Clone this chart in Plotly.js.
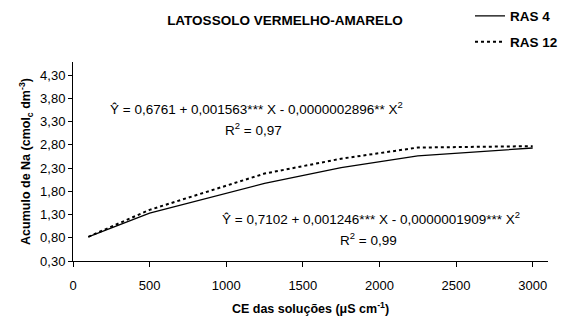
<!DOCTYPE html>
<html>
<head>
<meta charset="utf-8">
<script src="https://cdn.plot.ly/plotly-3.0.1.min.js"></script>
<style>html,body{margin:0;padding:0;background:#fff}#chart{width:564px;height:318px}</style>
</head>
<body>
<div id="chart"></div>
<script>
var ceValues = [100, 500, 1250, 1750, 2250, 3000];
var ras4 = [0.82, 1.33, 1.97, 2.31, 2.56, 2.73];
var ras12 = [0.82, 1.40, 2.18, 2.50, 2.74, 2.77];
var seriesNames = ["RAS 4", "RAS 12"];
var chartTitle = "LATOSSOLO VERMELHO-AMARELO";
var eq12 = "Ŷ = 0,6761 + 0,001563*** X - 0,0000002896** X<sup>2</sup>";
var r12 = "R<sup>2</sup> = 0,97";
var eq4 = "Ŷ = 0,7102 + 0,001246*** X - 0,0000001909*** X<sup>2</sup>";
var r4 = "R<sup>2</sup> = 0,99";

var font = "Liberation Sans, Arial, sans-serif";

var traces = [
  {x: ceValues, y: ras4, name: seriesNames[0], mode: "lines", type: "scatter",
   line: {color: "#000", width: 1.3}, legend: "legend"},
  {x: ceValues, y: ras12, name: seriesNames[1], mode: "lines", type: "scatter",
   line: {color: "#000", width: 2, dash: "dot"}, legend: "legend2"}
];

var legendBase = {xref: "container", yref: "container", xanchor: "left", yanchor: "middle",
  font: {family: font, size: 13.5, color: "#000", weight: "bold"}, bgcolor: "rgba(0,0,0,0)", borderwidth: 0, itemwidth: 30};

var layout = {
  width: 564, height: 318,
  margin: {l: 73, r: 16, t: 62, b: 57, autoexpand: false},
  paper_bgcolor: "#fff", plot_bgcolor: "#fff",
  font: {family: font, size: 13, color: "#000"},
  title: {text: "<b>" + chartTitle + "</b>", font: {family: font, size: 13.5, color: "#000"},
          xref: "container", yref: "container", x: 285/564, xanchor: "center", y: 1 - 20/318, yanchor: "middle"},
  showlegend: true,
  legend: Object.assign({}, legendBase, {x: 470/564, y: 1 - 16/318}),
  legend2: Object.assign({}, legendBase, {x: 470/564, y: 1 - 42/318}),
  xaxis: {range: [0, 3100], tickvals: [0, 500, 1000, 1500, 2000, 2500, 3000],
          showline: true, linecolor: "#000", linewidth: 1, ticks: "outside", ticklen: 5, tickcolor: "#000",
          showgrid: false, zeroline: false, tickfont: {size: 13}, automargin: false, ticklabelstandoff: 7,
          title: {text: "<b>CE das soluções (μS cm<sup>-1</sup>)</b>", font: {size: 12.5}, standoff: 12}},
  yaxis: {range: [0.3, 4.58], tickvals: [0.3, 0.8, 1.3, 1.8, 2.3, 2.8, 3.3, 3.8, 4.3], tickformat: ".2f",
          showline: true, linecolor: "#000", linewidth: 1, ticks: "outside", ticklen: 4, tickcolor: "#000",
          showgrid: false, zeroline: false, tickfont: {size: 13}, automargin: false,
          title: {text: "<b>Acumulo de Na (cmol<sub>c</sub> dm<sup>-3</sup>)</b>", font: {size: 12.5}, standoff: 6}},
  separators: ", ",
  annotations: [
    {xref: "paper", yref: "paper", x: (256-73)/475, y: (261-108)/199, text: eq12, showarrow: false, xanchor: "center", yanchor: "middle", font: {size: 13.5}},
    {xref: "paper", yref: "paper", x: (253-73)/475, y: (261-129)/199, text: r12, showarrow: false, xanchor: "center", yanchor: "middle", font: {size: 13.5}},
    {xref: "paper", yref: "paper", x: (371-73)/475, y: (261-218)/199, text: eq4, showarrow: false, xanchor: "center", yanchor: "middle", font: {size: 13.5}},
    {xref: "paper", yref: "paper", x: (368-73)/475, y: (261-239)/199, text: r4, showarrow: false, xanchor: "center", yanchor: "middle", font: {size: 13.5}}
  ]
};

Plotly.newPlot("chart", traces, layout, {staticPlot: true, displayModeBar: false});
</script>
</body>
</html>
